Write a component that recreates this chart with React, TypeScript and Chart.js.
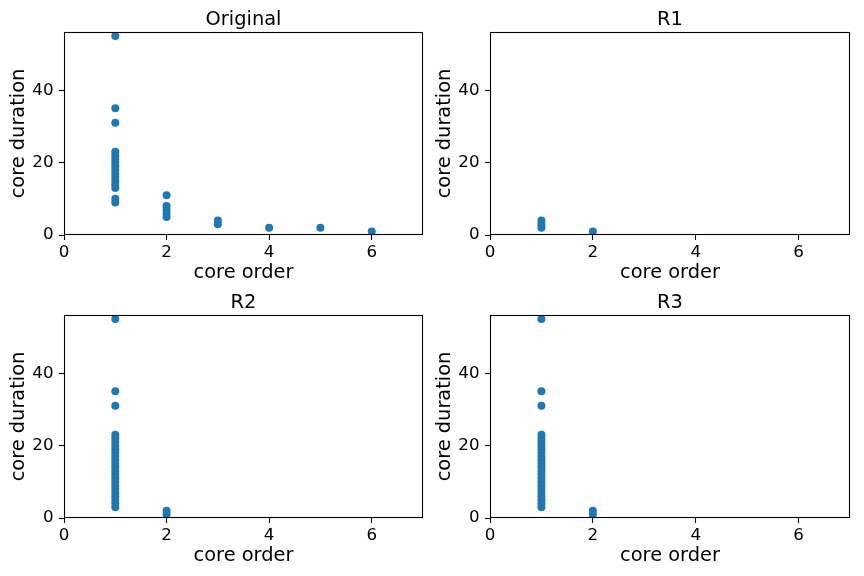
import React, { useEffect, useRef } from "react";
import { Chart, registerables } from "chart.js";

Chart.register(...registerables);

// ---- data ----
const xTicks = [0, 2, 4, 6];
const yTicks = [0, 20, 40];
const X_MIN = 0;
const X_MAX = 7;
const Y_MIN = 0;
const Y_MAX = 56.1;

const originalX = [1, 1, 1, 1, 1, 1, 1, 1, 1, 1, 1, 1, 1, 1, 1, 1, 2, 2, 2, 2, 2, 3, 3, 4, 5, 6];
const originalY = [9, 10, 13, 14, 15, 16, 17, 18, 19, 20, 21, 22, 23, 31, 35, 55, 5, 6, 7, 8, 11, 3, 4, 2, 2, 1];

const r1X = [1, 1, 1, 2];
const r1Y = [2, 3, 4, 1];

const r2X = [1, 1, 1, 1, 1, 1, 1, 1, 1, 1, 1, 1, 1, 1, 1, 1, 1, 1, 1, 1, 1, 1, 1, 1, 2, 2];
const r2Y = [3, 4, 5, 6, 7, 8, 9, 10, 11, 12, 13, 14, 15, 16, 17, 18, 19, 20, 21, 22, 23, 31, 35, 55, 1, 2];

const r3X = [1, 1, 1, 1, 1, 1, 1, 1, 1, 1, 1, 1, 1, 1, 1, 1, 1, 1, 1, 1, 1, 1, 1, 1, 2, 2];
const r3Y = [3, 4, 5, 6, 7, 8, 9, 10, 11, 12, 13, 14, 15, 16, 17, 18, 19, 20, 21, 22, 23, 31, 35, 55, 1, 2];

const FONT = "'DejaVu Sans', sans-serif";
const BLUE = "#1f77b4";

const frame = {
  id: "frame",
  afterDraw(chart: any) {
    const { ctx, chartArea } = chart;
    ctx.save();
    ctx.strokeStyle = "#000";
    ctx.lineWidth = 1.1;
    const l = Math.round(chartArea.left) + 0.5;
    const t = Math.round(chartArea.top) + 0.5;
    const r = Math.round(chartArea.right) - 0.5;
    const b = Math.round(chartArea.bottom) - 0.5;
    ctx.strokeRect(l, t, r - l, b - t);
    ctx.restore();
  },
};

function Subplot(props: { title: string; xs: number[]; ys: number[]; left: number; top: number; padRight: number }) {
  const ref = useRef<HTMLCanvasElement | null>(null);
  useEffect(() => {
    if (!ref.current) return;
    const data = props.xs.map((x, i) => ({ x, y: props.ys[i] }));
    const chart = new Chart(ref.current, {
      type: "scatter",
      data: {
        datasets: [
          {
            data,
            backgroundColor: BLUE,
            borderColor: BLUE,
            borderWidth: 0,
            pointRadius: 4,
          },
        ],
      },
      options: {
        animation: false,
        responsive: false,
        devicePixelRatio: 1,
        layout: { padding: { left: 0, right: props.padRight, top: 0, bottom: 0 } },
        plugins: {
          legend: { display: false },
          tooltip: { enabled: false },
          title: {
            display: true,
            fullSize: false,
            text: props.title,
            color: "#000",
            font: { family: FONT, size: 19.4, weight: "normal", lineHeight: 1.2 },
            padding: { top: 8.4, bottom: 0.3 },
          },
        },
        scales: {
          x: {
            type: "linear",
            min: X_MIN,
            max: X_MAX,
            afterBuildTicks: (s: any) => {
              s.ticks = xTicks.map((v) => ({ value: v }));
            },
            afterFit: (s: any) => {
              s.height = 53;
            },
            grid: { drawOnChartArea: false, drawTicks: true, tickLength: 5, tickColor: "#000", tickWidth: 1.1 },
            border: { display: false },
            ticks: { color: "#000", padding: 2.5, maxRotation: 0, font: { family: FONT, size: 16.7 } },
            title: {
              display: true,
              text: "core order",
              color: "#000",
              font: { family: FONT, size: 19.4, lineHeight: 1.2 },
              padding: { top: 0, bottom: 2.9 },
            },
          },
          y: {
            type: "linear",
            min: Y_MIN,
            max: Y_MAX,
            afterBuildTicks: (s: any) => {
              s.ticks = yTicks.map((v) => ({ value: v }));
            },
            afterFit: (s: any) => {
              s.width = 64;
            },
            grid: { drawOnChartArea: false, drawTicks: true, tickLength: 5, tickColor: "#000", tickWidth: 1.1 },
            border: { display: false },
            ticks: { color: "#000", padding: 5.5, font: { family: FONT, size: 16.7 } },
            title: {
              display: true,
              text: "core duration",
              color: "#000",
              font: { family: FONT, size: 19.4, lineHeight: 1.2 },
              padding: { top: 7, bottom: 0 },
            },
          },
        },
      },
      plugins: [frame],
    } as any);
    return () => chart.destroy();
  }, []);
  return (
    <canvas
      ref={ref}
      width={432}
      height={288}
      style={{ position: "absolute", left: props.left, top: props.top, width: 432, height: 288 }}
    />
  );
}

export default function App() {
  return (
    <div style={{ position: "fixed", left: 0, top: 0, width: 864, height: 576, background: "#fff", overflow: "hidden" }}>
      <Subplot title="Original" xs={originalX} ys={originalY} left={0} top={0} padRight={9} />
      <Subplot title="R1" xs={r1X} ys={r1Y} left={426} top={0} padRight={8} />
      <Subplot title="R2" xs={r2X} ys={r2Y} left={0} top={283} padRight={9} />
      <Subplot title="R3" xs={r3X} ys={r3Y} left={426} top={283} padRight={8} />
    </div>
  );
}
